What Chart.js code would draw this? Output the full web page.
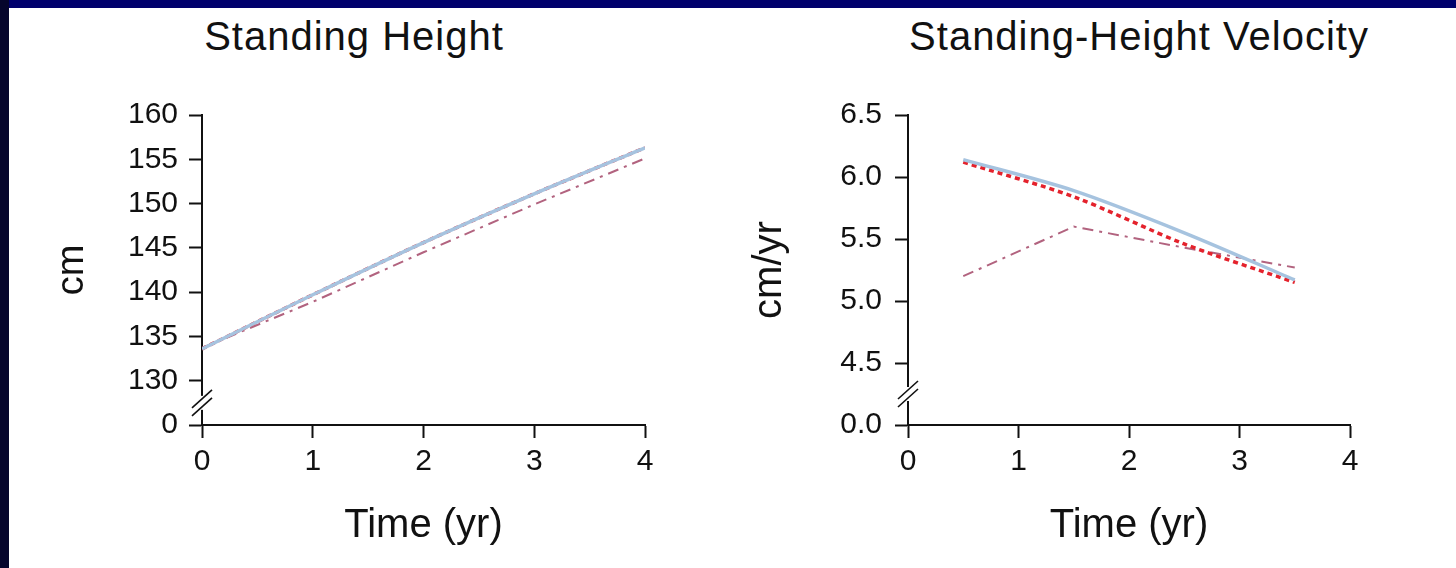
<!DOCTYPE html>
<html>
<head>
<meta charset="utf-8">
<script src="https://cdn.jsdelivr.net/npm/chart.js@4/dist/chart.umd.min.js"></script>
<style>
  body {
    margin: 0;
    width: 1456px;
    height: 568px;
    background: #fff;
    position: relative;
    overflow: hidden;
    font-family: "Liberation Sans", Arial, sans-serif;
  }
  canvas { position: absolute; top: 0; }
  #chartAltura { left: 0; }
  #chartVelocidade { left: 728px; }
  .faixa-topo { position: absolute; left: 0; top: 0; width: 1456px; height: 8px; background: #00006c; z-index: 2; }
  .faixa-esq { position: absolute; left: 0; top: 0; width: 9px; height: 568px; background: #05052c; z-index: 2; }
  .titulo {
    position: absolute;
    top: 16px;
    font-size: 40px;
    line-height: 1;
    letter-spacing: 1px;
    color: #111;
    white-space: nowrap;
    transform: translateX(-50%);
  }
</style>
</head>
<body>
<div class="faixa-topo"></div>
<div class="faixa-esq"></div>
<div class="titulo" style="left: 354px;">Standing Height</div>
<div class="titulo" style="left: 1139px;">Standing-Height Velocity</div>
<canvas id="chartAltura" width="728" height="568"></canvas>
<canvas id="chartVelocidade" width="728" height="568"></canvas>
<script>
// altura (cm) nos anos 0..4
const anos = [0, 1, 2, 3, 4]
const alturaAzul = [133.6, 139.7, 145.6, 151.1, 156.3]
const alturaVermelha = [133.6, 139.7, 145.6, 151.1, 156.3]
const alturaRosa = [133.7, 138.9, 144.5, 149.9, 155.1]

// velocidade (cm/ano) no meio de cada ano
const anosVelocidade = [0.5, 1.5, 2.5, 3.5]
const velocidadeAzul = [6.14, 5.89, 5.55, 5.17]
const velocidadeVermelha = [6.12, 5.84, 5.46, 5.15]
const velocidadeRosa = [5.20, 5.60, 5.43, 5.27]

// rotulos dos eixos (o primeiro fica abaixo da quebra)
const rotulosAltura = ['0', '130', '135', '140', '145', '150', '155', '160']
const rotulosVelocidade = ['0.0', '4.5', '5.0', '5.5', '6.0', '6.5']
const rotulosTempo = ['0', '1', '2', '3', '4']

const fonte = '"Liberation Sans", Arial, sans-serif'
const corTexto = '#111'
const corEixo = '#111'

Chart.defaults.font.family = fonte

function montarPontos(xs, ys) {
    return xs.map((x, i) => ({ x: x, y: ys[i] }))
}

function criarSeries(xs, azul, vermelha, rosa) {
    return [{
        label: 'azul',
        data: montarPontos(xs, azul),
        borderColor: '#a6c3df',
        borderWidth: 3.5,
        tension: 0.3,
        order: 0
    }, {
        label: 'vermelha',
        data: montarPontos(xs, vermelha),
        borderColor: '#e4222c',
        borderWidth: 3.5,
        borderDash: [5, 4],
        tension: 0.3,
        order: 1
    }, {
        label: 'rosa',
        data: montarPontos(xs, rosa),
        borderColor: '#b2637f',
        borderWidth: 2,
        borderDash: [11, 6, 3, 6],
        tension: 0,
        order: 2
    }]
}

// marca de quebra "//" no eixo y, entre os dois primeiros ticks
const quebraEixo = {
    id: 'quebraEixo',
    afterDraw(chart) {
        const eixoY = chart.scales.y
        const ctx = chart.ctx
        const meio = (eixoY.getPixelForValue(eixoY.ticks[0].value) + eixoY.getPixelForValue(eixoY.ticks[1].value)) / 2
        const x = chart.chartArea.left
        ctx.save()
        ctx.fillStyle = '#fff'
        ctx.fillRect(x - 3, meio - 7, 6, 14)
        ctx.strokeStyle = corEixo
        ctx.lineWidth = 1.6
        const deslocamentos = [-4, 4]
        deslocamentos.forEach(d => {
            ctx.beginPath()
            ctx.moveTo(x - 10, meio + d + 9)
            ctx.lineTo(x + 10, meio + d - 9)
            ctx.stroke()
        })
        ctx.restore()
    }
}

function eixoX() {
    return {
        type: 'linear',
        min: 0,
        max: 4,
        afterFit: (eixo) => { eixo.height = 143 },
        border: { color: corEixo, width: 2 },
        grid: { drawOnChartArea: false, drawTicks: true, tickLength: 13, tickWidth: 2, tickColor: corEixo },
        ticks: {
            stepSize: 1,
            padding: 6,
            color: corTexto,
            font: { size: 30 },
            callback: (valor, i) => rotulosTempo[i]
        },
        title: {
            display: true,
            text: 'Time (yr)',
            color: corTexto,
            font: { size: 40, lineHeight: 1 },
            padding: { top: 0, bottom: 22 }
        }
    }
}

function eixoY(min, max, passo, rotulos, largura, titulo, tamanhoTitulo, recuoTitulo, espaco) {
    return {
        type: 'linear',
        min: min,
        max: max,
        afterFit: (eixo) => { eixo.width = largura },
        border: { color: corEixo, width: 2 },
        grid: { drawOnChartArea: false, drawTicks: true, tickLength: 13, tickWidth: 2, tickColor: corEixo },
        ticks: {
            stepSize: passo,
            padding: espaco,
            color: corTexto,
            font: { size: 30 },
            callback: (valor, i) => rotulos[i]
        },
        title: {
            display: true,
            text: titulo,
            color: corTexto,
            font: { size: tamanhoTitulo, lineHeight: 1 },
            padding: { top: recuoTitulo, bottom: 0 }
        }
    }
}

function opcoesBase(direita) {
    return {
        responsive: false,
        animation: false,
        devicePixelRatio: 1,
        layout: { padding: { top: 115, right: direita, left: 0, bottom: 0 } },
        elements: { point: { radius: 0 } },
        plugins: {
            legend: { display: false },
            tooltip: { enabled: false }
        }
    }
}

const opcoesAltura = opcoesBase(83)
opcoesAltura.scales = {
    x: eixoX(),
    y: eixoY(125, 160, 5, rotulosAltura, 202, 'cm', 38, 54, 11)
}

const opcoesVelocidade = opcoesBase(106)
opcoesVelocidade.scales = {
    x: eixoX(),
    y: eixoY(4, 6.5, 0.5, rotulosVelocidade, 180, 'cm/yr', 40, 22, 13)
}

new Chart(document.getElementById('chartAltura'), {
    type: 'line',
    data: { datasets: criarSeries(anos, alturaAzul, alturaVermelha, alturaRosa) },
    options: opcoesAltura,
    plugins: [quebraEixo]
})

new Chart(document.getElementById('chartVelocidade'), {
    type: 'line',
    data: { datasets: criarSeries(anosVelocidade, velocidadeAzul, velocidadeVermelha, velocidadeRosa) },
    options: opcoesVelocidade,
    plugins: [quebraEixo]
})
</script>
</body>
</html>
